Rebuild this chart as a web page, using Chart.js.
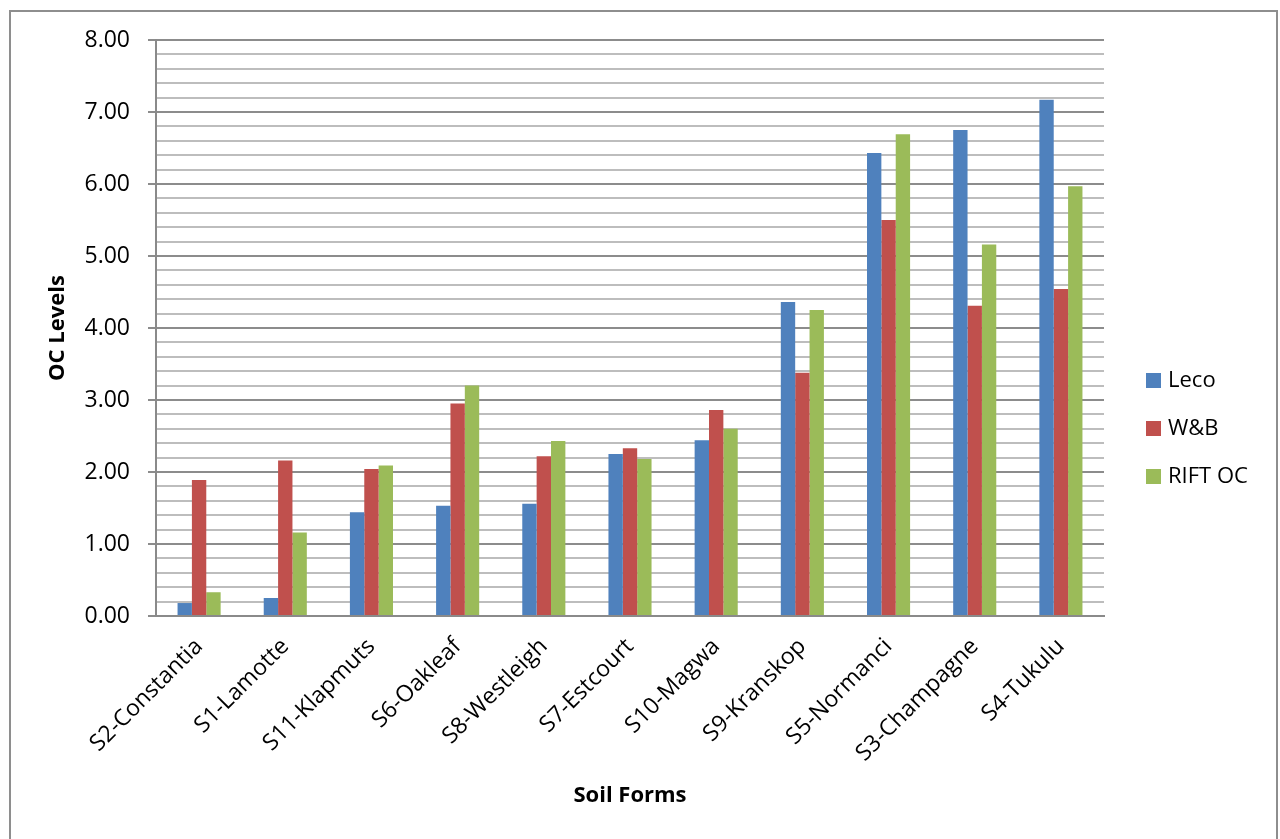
<!DOCTYPE html>
<html>
<head>
<meta charset="utf-8">
<script src="https://cdn.jsdelivr.net/npm/chart.js@4.4.0/dist/chart.umd.min.js"></script>
<style>
  html, body { margin: 0; padding: 0; background: #fff; }
  #wrap { position: relative; width: 1280px; height: 839px; }
</style>
</head>
<body>
<div id="wrap"><canvas id="ocChart"></canvas></div>
<script>
var soilForms = ['S2-Constantia', 'S1-Lamotte', 'S11-Klapmuts', 'S6-Oakleaf', 'S8-Westleigh',
  'S7-Estcourt', 'S10-Magwa', 'S9-Kranskop', 'S5-Normanci', 'S3-Champagne', 'S4-Tukulu'];
var leco   = [0.18, 0.25, 1.44, 1.53, 1.56, 2.25, 2.44, 4.36, 6.43, 6.75, 7.17];
var wb     = [1.89, 2.16, 2.04, 2.95, 2.22, 2.33, 2.86, 3.38, 5.50, 4.31, 4.54];
var riftOc = [0.33, 1.16, 2.09, 3.20, 2.43, 2.18, 2.60, 4.25, 6.69, 5.16, 5.97];
var yTicks = [0, 1, 2, 3, 4, 5, 6, 7, 8];

var FONT = "'Open Sans', 'Liberation Sans', sans-serif";

function isMajor(v) {
  return yTicks.indexOf(Math.round(v * 1000) / 1000) !== -1;
}

// outer frame and a hand-drawn legend on the right
var frame = {
  id: 'frame',
  beforeDraw: function (chart) {
    var c = chart.ctx;
    c.save();
    c.strokeStyle = '#8e8e8e';
    c.lineWidth = 2;
    c.strokeRect(10, 11, 1267, 860);
    c.restore();
  },
  afterDraw: function (chart) {
    var c = chart.ctx;
    var x = chart.chartArea.right + 42;
    var y0 = 380;
    c.save();
    c.font = '22px ' + FONT;
    c.textBaseline = 'middle';
    chart.data.datasets.forEach(function (ds, i) {
      var y = y0 + i * 48;
      c.fillStyle = ds.backgroundColor;
      c.fillRect(x, y - 7, 15, 15);
      c.fillStyle = '#000';
      c.fillText(ds.label, x + 22, y + 1);
    });
    c.restore();
  }
};

new Chart(document.getElementById('ocChart'), {
  type: 'bar',
  data: {
    labels: soilForms,
    datasets: [
      { label: 'Leco', data: leco, backgroundColor: '#4F81BD' },
      { label: 'W&B', data: wb, backgroundColor: '#C0504D' },
      { label: 'RIFT OC', data: riftOc, backgroundColor: '#9BBB59' }
    ]
  },
  options: {
    responsive: true,
    maintainAspectRatio: false,
    animation: false,
    layout: { padding: { left: 0, right: 176, top: 40, bottom: 0 } },
    datasets: { bar: { categoryPercentage: 0.5, barPercentage: 1.0, borderWidth: 0 } },
    plugins: { legend: { display: false }, tooltip: { enabled: false } },
    scales: {
      x: {
        grid: { display: false },
        border: { color: '#8a8a8a', width: 2 },
        ticks: {
          color: '#000', font: { family: FONT, size: 23 },
          maxRotation: 45, minRotation: 45, autoSkip: false, padding: 9
        },
        title: {
          display: true, text: 'Soil Forms', color: '#000',
          font: { family: FONT, size: 22, weight: 'bold' },
          padding: { top: 0, bottom: 30 }
        },
        afterFit: function (s) { s.height = 223; }
      },
      y: {
        min: 0, max: 8,
        border: { color: '#8a8a8a', width: 2 },
        grid: {
          color: function (ctx) { return isMajor(ctx.tick.value) ? '#8c8c8c' : '#bdbdbd'; },
          lineWidth: 2,
          tickLength: 8,
          tickColor: function (ctx) { return isMajor(ctx.tick.value) ? '#8c8c8c' : 'rgba(0,0,0,0)'; }
        },
        ticks: {
          stepSize: 0.2, maxTicksLimit: 60, autoSkip: false,
          color: '#000', padding: 18,
          font: { family: FONT, size: 23 },
          callback: function (v) { return isMajor(v) ? v.toFixed(2) : ''; }
        },
        title: {
          display: true, text: 'OC Levels', color: '#000',
          font: { family: FONT, size: 22, weight: 'bold' },
          padding: { top: 45, bottom: 0 }
        },
        afterFit: function (s) { s.width = 156; }
      }
    }
  },
  plugins: [frame]
});
</script>
</body>
</html>
